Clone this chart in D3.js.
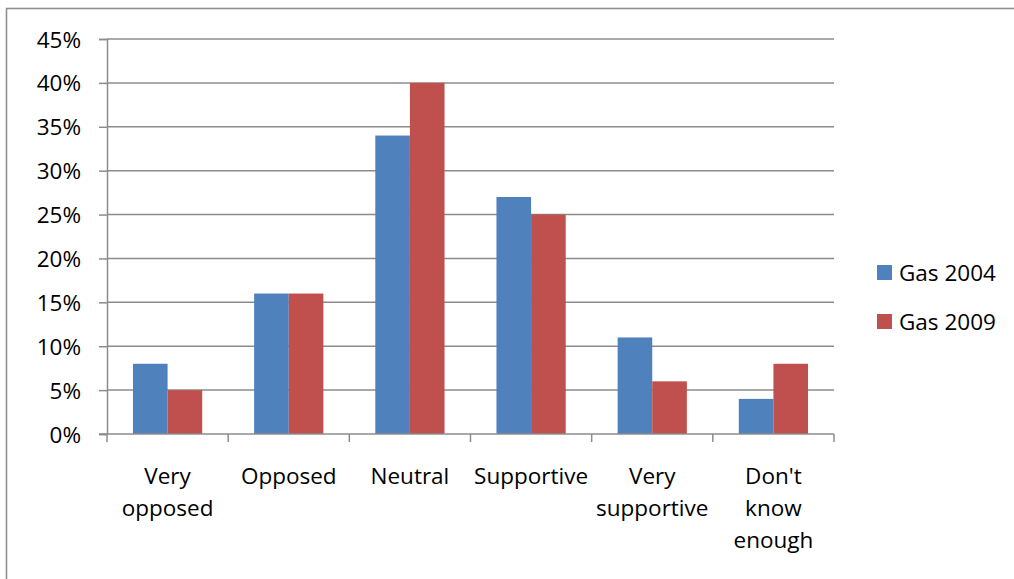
<!DOCTYPE html>
<html>
<head>
<meta charset="utf-8">
<script src="https://cdn.jsdelivr.net/npm/d3@7"></script>
<style>
  html, body { margin: 0; padding: 0; background: #fff; }
  svg { display: block; font-family: "Open Sans", "Noto Sans", sans-serif; }
</style>
</head>
<body>
<svg id="chart" width="1014" height="579"></svg>
<script>
// Attitudes towards gas, share of respondents by answer
const categories = [
  ["Very", "opposed"],
  ["Opposed"],
  ["Neutral"],
  ["Supportive"],
  ["Very", "supportive"],
  ["Don't", "know", "enough"]
];
const seriesNames = ["Gas 2004", "Gas 2009"];
const gas2004 = [0.08, 0.16, 0.34, 0.27, 0.11, 0.04];
const gas2009 = [0.05, 0.16, 0.40, 0.25, 0.06, 0.08];
const yTicks = [0, 0.05, 0.10, 0.15, 0.20, 0.25, 0.30, 0.35, 0.40, 0.45];
const colors = ["#4F81BD", "#C0504D"];

const svg = d3.select("#chart");
const gridColor = "#8c8c8c";
const fontSize = "22.5px";

// outer chart frame (extends past the right and bottom edges)
svg.append("rect")
  .attr("x", 6.5).attr("y", 8.5)
  .attr("width", 1020).attr("height", 600)
  .attr("fill", "none")
  .attr("stroke", "#8f8f8f")
  .attr("stroke-width", 1.6);

const plot = { left: 107, right: 834, top: 39, bottom: 434 };

const idx = d3.range(categories.length);
const x = d3.scaleBand().domain(idx).range([plot.left, plot.right]).paddingInner(0).paddingOuter(0);
const y = d3.scaleLinear().domain([0, 0.45]).range([plot.bottom, plot.top]);

// horizontal gridlines
svg.append("g")
  .selectAll("line")
  .data(yTicks.filter(d => d > 0))
  .join("line")
  .attr("x1", plot.left).attr("x2", plot.right)
  .attr("y1", d => y(d)).attr("y2", d => y(d))
  .attr("stroke", gridColor).attr("stroke-width", 1.5);

// bars: gap width 150% of a bar
const barW = x.bandwidth() / 3.5;
const groups = svg.append("g")
  .selectAll("g")
  .data(idx)
  .join("g")
  .attr("transform", i => `translate(${x(i) + barW * 0.75},0)`);

[gas2004, gas2009].forEach((vals, s) => {
  groups.append("rect")
    .attr("x", s * barW)
    .attr("y", i => y(vals[i]))
    .attr("width", barW)
    .attr("height", i => y(0) - y(vals[i]))
    .attr("fill", colors[s]);
});

// y axis
const yAxis = d3.axisLeft(y)
  .tickValues(yTicks)
  .tickFormat(d3.format(".0%"))
  .tickSize(8)
  .tickPadding(18);
const gy = svg.append("g")
  .attr("transform", `translate(${plot.left},0)`)
  .call(yAxis);
gy.select(".domain").attr("stroke", gridColor).attr("stroke-width", 1.5);
gy.selectAll(".tick line").attr("stroke", gridColor).attr("stroke-width", 1.5);
gy.selectAll(".tick text")
  .attr("fill", "#000")
  .style("font-size", fontSize)
  .style("font-family", "'Open Sans', sans-serif")
  .attr("dy", "0.36em");

// x axis baseline with category boundary ticks
const gx = svg.append("g");
gx.append("line")
  .attr("x1", plot.left - 8).attr("x2", plot.right)
  .attr("y1", plot.bottom).attr("y2", plot.bottom)
  .attr("stroke", gridColor).attr("stroke-width", 1.5);
gx.selectAll("line.tk")
  .data(idx.concat([categories.length]))
  .join("line")
  .attr("class", "tk")
  .attr("x1", i => i < categories.length ? x(i) : plot.right)
  .attr("x2", i => i < categories.length ? x(i) : plot.right)
  .attr("y1", plot.bottom).attr("y2", plot.bottom + 8)
  .attr("stroke", gridColor).attr("stroke-width", 1.5);

// category labels
const labels = svg.append("g")
  .selectAll("text")
  .data(idx)
  .join("text")
  .attr("x", i => x(i) + x.bandwidth() / 2)
  .attr("y", 484)
  .attr("text-anchor", "middle")
  .style("font-size", fontSize)
  .attr("fill", "#000");
labels.selectAll("tspan")
  .data(i => categories[i].map((t, k) => ({ t, k, i })))
  .join("tspan")
  .attr("x", d => x(d.i) + x.bandwidth() / 2)
  .attr("dy", d => d.k === 0 ? 0 : 32)
  .text(d => d.t);

// legend
const legend = svg.append("g")
  .selectAll("g")
  .data(seriesNames)
  .join("g")
  .attr("transform", (d, i) => `translate(877,${265 + i * 49})`);
legend.append("rect")
  .attr("width", 15).attr("height", 15)
  .attr("fill", (d, i) => colors[i]);
legend.append("text")
  .attr("x", 22).attr("y", 16)
  .style("font-size", fontSize)
  .attr("fill", "#000")
  .text(d => d);
</script>
</body>
</html>
